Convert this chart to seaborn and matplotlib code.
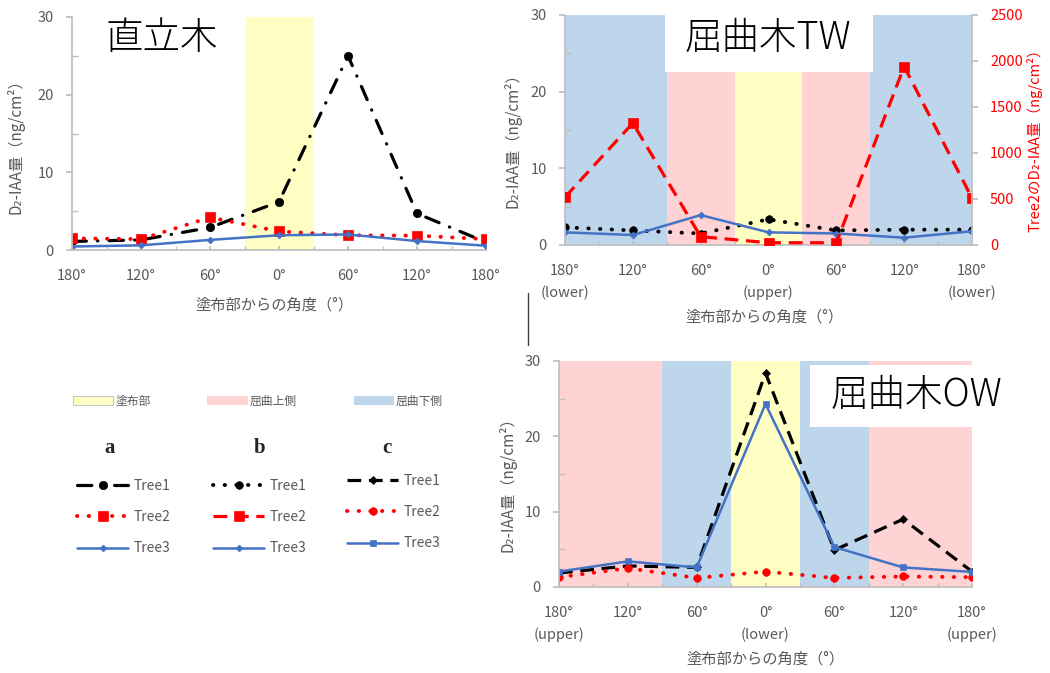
import matplotlib
matplotlib.use("Agg")
import matplotlib.pyplot as plt
import seaborn as sns
from matplotlib.lines import Line2D
from matplotlib.patches import Patch, Rectangle

sns.set_theme(style="white")
plt.rcParams["font.family"] = ["Noto Sans CJK JP", "DejaVu Sans"]

# --- data ---
POS = [0, 1, 2, 3, 4, 5, 6]
TREES = ["Tree1", "Tree2", "Tree3"]
a_ticks = ["180°", "120°", "60°", "0°", "60°", "120°", "180°"]
b_ticks = ["180°\n(lower)", "120°", "60°", "0°\n(upper)", "60°", "120°", "180°\n(lower)"]
c_ticks = ["180°\n(upper)", "120°", "60°", "0°\n(lower)", "60°", "120°", "180°\n(upper)"]

# a: 直立木
a_tree1 = [1.1, 1.3, 2.9, 6.2, 25.0, 4.7, 1.0]
a_tree2 = [1.5, 1.4, 4.2, 2.4, 1.9, 1.85, 1.4]
a_tree3 = [0.45, 0.6, 1.3, 1.9, 2.0, 1.15, 0.55]

# b: 屈曲木TW (Tree2 on the right axis)
b_tree1 = [2.3, 1.9, 1.5, 3.35, 1.9, 2.0, 2.0]
b_tree2 = [520, 1325, 90, 25, 25, 1940, 510]
b_tree3 = [1.65, 1.3, 3.9, 1.65, 1.5, 0.95, 1.8]

# c: 屈曲木OW
c_tree1 = [1.85, 2.8, 2.6, 28.4, 4.9, 9.0, 2.05]
c_tree2 = [1.3, 2.5, 1.2, 2.05, 1.2, 1.4, 1.3]
c_tree3 = [2.05, 3.4, 2.6, 24.3, 5.3, 2.6, 2.0]

# shaded zones: (start, end, kind)
a_zones = [(2.5, 3.5, "applied")]
b_zones = [(0, 1.5, "lower"), (1.5, 2.5, "upper"), (2.5, 3.5, "applied"),
           (3.5, 4.5, "upper"), (4.5, 6, "lower")]
c_zones = [(0, 1.5, "upper"), (1.5, 2.5, "lower"), (2.5, 3.5, "applied"),
           (3.5, 4.5, "lower"), (4.5, 6, "upper")]
ZONE_COL = {"applied": "#FFFFC4", "upper": "#FFD3D3", "lower": "#BED6EC"}
ZONE_LABELS = ["塗布部", "屈曲上側", "屈曲下側"]

BLACK, RED, BLUE = "#000000", "#FF0000", "#4472C4"
GRAY, TXT = "#BFBFBF", "#595959"
YLAB = "D₂-IAA量（ng/cm²）"
XLAB = "塗布部からの角度（°）"

# line styles (dash patterns in linewidth units)
DOT = (0, (0.1, 2.9))
DASH_DOT = (0, (4.5, 3.5, 0.1, 3.5))
DASH = (0, (4.3, 2.4))

W, H = 1050, 673
fig = plt.figure(figsize=(W / 100, H / 100), dpi=100)


def px_axes(l, t, r, b):
    return fig.add_axes([l / W, 1 - b / H, (r - l) / W, (b - t) / H])


def line(ax, y, color, ls, lw, marker, ms, cap="round"):
    sns.lineplot(x=POS, y=y, ax=ax, color=color, linestyle=ls, linewidth=lw,
                 marker=marker, markersize=ms, markeredgecolor=color,
                 markeredgewidth=0.5, dash_capstyle=cap, sort=False)
    return ax.get_lines()[-1]


def style(ax, labels):
    ax.set_xlim(0, 6)
    ax.set_ylim(0, 30)
    ax.set_xticks(POS, labels)
    ax.set_xticks([i / 2 for i in range(1, 12, 2)], minor=True)
    ax.set_yticks([0, 10, 20, 30])
    ax.set_yticks([5, 15, 25], minor=True)
    ax.spines[["top", "right"]].set_visible(False)
    ax.spines[["left", "bottom"]].set_color(GRAY)
    ax.tick_params(which="both", bottom=True, left=True, color=GRAY)
    ax.tick_params(axis="x", which="both", direction="in", length=3, pad=14,
                   labelsize=10.5, labelcolor=TXT)
    ax.tick_params(axis="y", which="major", direction="out", length=4, pad=9,
                   labelsize=10.5, labelcolor=TXT)
    ax.tick_params(axis="y", which="minor", direction="in", length=4)
    for t in ax.get_xticklabels():
        t.set_linespacing(1.6)


def shade(ax, zones):
    for x0, x1, kind in zones:
        ax.axvspan(x0, x1, color=ZONE_COL[kind], lw=0, zorder=0)


# --- panel a ---
ax_a = px_axes(72, 17, 486, 250)
shade(ax_a, a_zones)
la = [line(ax_a, a_tree1, BLACK, DASH_DOT, 2.3, "o", 6),
      line(ax_a, a_tree2, RED, DOT, 2.8, "s", 6.5),
      line(ax_a, a_tree3, BLUE, "-", 1.8, "D", 3.5)]
style(ax_a, a_ticks)
ax_a.set_ylabel(YLAB, fontsize=11, color=TXT)
ax_a.yaxis.set_label_coords(-0.115, 0.46)
ax_a.set_xlabel(XLAB, fontsize=11, color=TXT)
ax_a.xaxis.set_label_coords(0.49, -0.2)

# --- panel b ---
ax_b = px_axes(565, 15, 972, 245)
shade(ax_b, b_zones)
ax_b2 = ax_b.twinx()
l1 = line(ax_b, b_tree1, BLACK, DOT, 2.8, "o", 5.5)
l3 = line(ax_b, b_tree3, BLUE, "-", 1.8, "D", 3.5)
l2 = line(ax_b2, b_tree2, RED, DASH, 2.3, "s", 7, cap="butt")
lb = [l1, l2, l3]
style(ax_b, b_ticks)
ax_b.set_ylabel(YLAB, fontsize=11, color=TXT)
ax_b.yaxis.set_label_coords(-0.108, 0.47)
ax_b.set_xlabel(XLAB, fontsize=11, color=TXT)
ax_b.xaxis.set_label_coords(0.49, -0.275)
ax_b2.set_ylim(0, 2500)
ax_b2.set_yticks(range(0, 2501, 500))
ax_b2.spines[["top", "left", "bottom"]].set_visible(False)
ax_b2.spines["right"].set_color(GRAY)
ax_b2.tick_params(axis="y", right=True, direction="out", length=4, color=GRAY,
                  pad=9, labelsize=10.5, labelcolor=RED)
ax_b2.set_ylabel("Tree2のD₂-IAA量（ng/cm²）", fontsize=10.5, color=RED)
ax_b2.yaxis.set_label_coords(1.135, 0.47)

# --- panel c ---
ax_c = px_axes(559, 361, 972, 587)
shade(ax_c, c_zones)
lc = [line(ax_c, c_tree1, BLACK, DASH, 2.3, "D", 4, cap="butt"),
      line(ax_c, c_tree2, RED, DOT, 2.8, "o", 5.5),
      line(ax_c, c_tree3, BLUE, "-", 1.8, "s", 5)]
style(ax_c, c_ticks)
ax_c.set_ylabel(YLAB, fontsize=11, color=TXT)
ax_c.yaxis.set_label_coords(-0.104, 0.47)
ax_c.set_xlabel(XLAB, fontsize=11, color=TXT)
ax_c.xaxis.set_label_coords(0.5, -0.28)

# --- titles with white boxes ---
fig.add_artist(Rectangle((665 / W, 1 - 72 / H), 208 / W, 58 / H,
                         transform=fig.transFigure, facecolor="white", lw=0))
fig.add_artist(Rectangle((810 / W, 1 - 427 / H), 210 / W, 62 / H,
                         transform=fig.transFigure, facecolor="white", lw=0))
for x, y, s in [(162, 38, "直立木"), (768, 38, "屈曲木TW"), (916, 395, "屈曲木OW")]:
    fig.text(x / W, 1 - y / H, s, fontsize=27, ha="center", va="center",
             fontweight="light", color="black")

# --- legends ---
zone_handles = [Patch(facecolor=ZONE_COL["applied"], edgecolor="#C8C8C8", lw=0.8),
                Patch(facecolor=ZONE_COL["upper"], lw=0),
                Patch(facecolor=ZONE_COL["lower"], lw=0)]
fig.legend(zone_handles, ZONE_LABELS, loc="center left",
           bbox_to_anchor=(73 / W, 1 - 401 / H), ncol=3, frameon=False,
           fontsize=8.5, labelcolor=TXT, handlelength=3.4, handleheight=0.8,
           handletextpad=0.2, columnspacing=4.8, borderpad=0, borderaxespad=0)

for handles, x, y, tag, tx in [(la, 77, 517, "a", 110), (lb, 213, 517, "b", 260),
                               (lc, 347, 512, "c", 387)]:
    fig.legend(handles, TREES, loc="center left", bbox_to_anchor=(x / W, 1 - y / H),
               frameon=False, fontsize=10, labelcolor=TXT, handlelength=3.7,
               handletextpad=0.35, labelspacing=1.25, numpoints=1,
               borderpad=0, borderaxespad=0)
    fig.text(tx / W, 1 - 448 / H, tag, fontsize=15, ha="center", va="center",
             family="Liberation Serif", fontweight="bold")

# stray separator line between the right-hand panels
fig.add_artist(Line2D([528 / W, 528 / W], [1 - 293 / H, 1 - 345 / H],
                      color="#404040", lw=1))

fig.savefig("out.png", dpi=100)
